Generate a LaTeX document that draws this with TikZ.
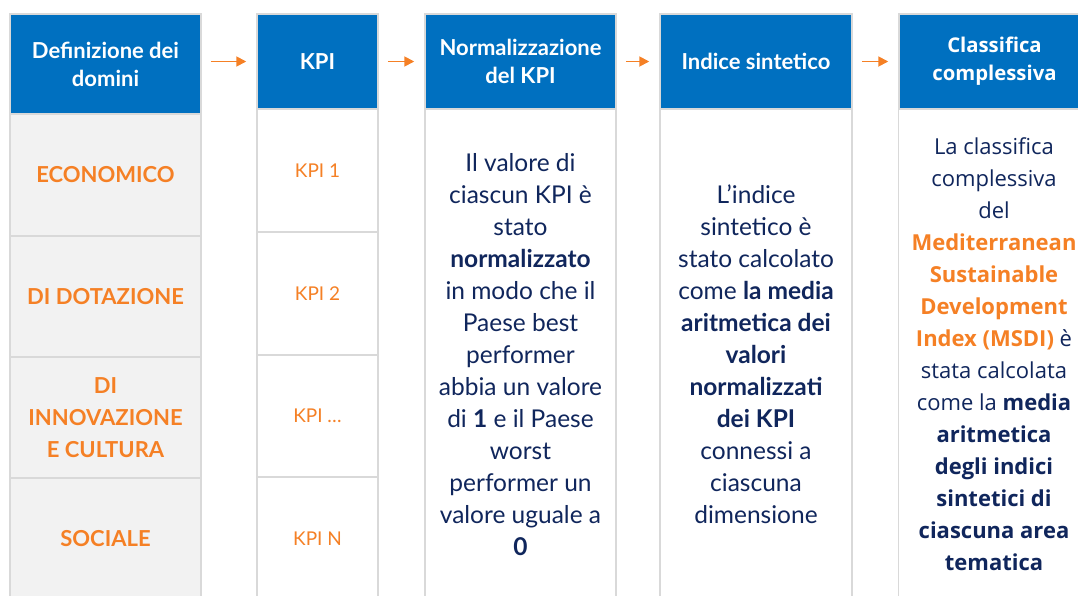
\documentclass[tikz,border=0pt]{standalone}
\usepackage{fontspec}
\setmainfont{Lato}
\newfontfamily\opensans{Open Sans}
\usetikzlibrary{arrows.meta}
\definecolor{hdblue}{RGB}{0,112,192}
\definecolor{kpiorange}{RGB}{245,128,37}
\definecolor{navy}{RGB}{16,38,92}
\definecolor{cellgray}{RGB}{242,242,242}
\definecolor{linegray}{RGB}{217,217,217}
\tikzstyle{header} = [rectangle, draw=linegray, line width=1.5pt, fill=hdblue, text=white, align=center, font=\bfseries\fontsize{22}{28}\selectfont, inner sep=0pt, minimum width=191pt, minimum height=95pt]
\tikzstyle{domcell} = [rectangle, draw=linegray, line width=1.5pt, fill=cellgray, text=kpiorange, align=center, font=\bfseries\fontsize{22}{32}\selectfont, inner sep=0pt, minimum width=191pt, minimum height=121pt]
\tikzstyle{kpicell} = [rectangle, draw=linegray, line width=1.5pt, fill=white, text=kpiorange, font=\fontsize{19}{28}\selectfont, inner sep=0pt, minimum width=121pt, minimum height=123pt]
\tikzstyle{bodycell} = [rectangle, draw=linegray, line width=1.5pt, fill=white, text=navy, align=center, font=\fontsize{24.5}{32}\selectfont, inner sep=0pt, minimum width=191pt, minimum height=491pt]
\tikzstyle{arrow} = [line width=1.8pt, draw=kpiorange, -{Triangle[length=10pt,width=10pt]}, shorten <=9pt, shorten >=10pt]

\begin{document}
\begin{tikzpicture}[x=1pt, y=-1pt]
    \useasboundingbox (0,0) rectangle (1078,595);
    \clip (0,0) rectangle (1078,595);
    \node [header, minimum height=100pt] at (105.5,64) (domini) {Definizione dei\\domini};
    \node [domcell, minimum height=122pt] at (105.5,175) (econ) {ECONOMICO};
    \node [domcell] at (105.5,296.5) (dotaz) {DI DOTAZIONE};
    \node [domcell] at (105.5,417.5) (innov) {DI\\INNOVAZIONE\\E CULTURA};
    \node [domcell, minimum height=122pt] at (105.5,539) (sociale) {SOCIALE};
    \node [header, minimum width=121pt] at (317.5,61.5) (kpi) {KPI};
    \node [kpicell] at (317.5,170.5) (kpi1) {KPI 1};
    \node [kpicell] at (317.5,293.5) (kpi2) {KPI 2};
    \node [kpicell, minimum height=122pt] at (317.5,416) (kpidots) {KPI \dots};
    \node [kpicell] at (317.5,538.5) (kpin) {KPI N};
    \node [header] at (520.5,61.5) (norm) {Normalizzazione\\del KPI};
    \node [bodycell] at (520.5,354.5) (normtxt) {Il valore di\\ciascun KPI è\\stato\\\textbf{normalizzato}\\in modo che il\\Paese best\\performer\\abbia un valore\\di \textbf{1} e il Paese\\worst\\performer un\\valore uguale a\\\textbf{0}};
    \node [header, minimum width=192pt] at (756,61.5) (indice) {Indice sintetico};
    \node [bodycell, minimum width=192pt] at (756,354.5) (indicetxt) {L’indice\\sintetico è\\stato calcolato\\come \textbf{la media}\\\textbf{aritmetica dei}\\\textbf{valori}\\\textbf{normalizzati}\\\textbf{dei KPI}\\connessi a\\ciascuna\\dimensione};
    \node [header, font=\opensans\bfseries\fontsize{20.3}{28}\selectfont] at (994.5,61.5) (classif) {Classifica\\complessiva};
    \node [bodycell, font=\opensans\fontsize{22}{32}\selectfont] at (994,354.5) (classiftxt) {La classifica\\complessiva\\del\\{\color{kpiorange}\bfseries Mediterranean}\\{\color{kpiorange}\bfseries Sustainable}\\{\color{kpiorange}\bfseries Development}\\{\color{kpiorange}\bfseries Index (MSDI)} è\\stata calcolata\\come la \textbf{media}\\\textbf{aritmetica}\\\textbf{degli indici}\\\textbf{sintetici di}\\\textbf{ciascuna area}\\\textbf{tematica}};
    \draw [arrow] (domini.east |- kpi.west) -- (kpi.west);
    \draw [arrow] (kpi) -- (norm);
    \draw [arrow] (norm) -- (indice);
    \draw [arrow] (indice) -- (classif);
\end{tikzpicture}
\end{document}
